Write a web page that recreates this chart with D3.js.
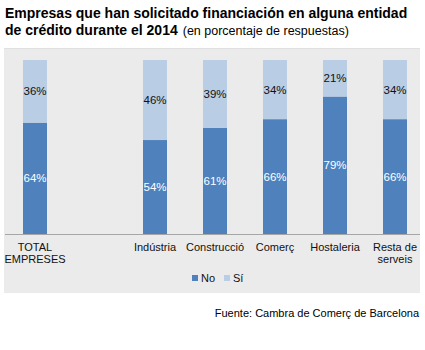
<!DOCTYPE html>
<html lang="es">
<head>
<meta charset="UTF-8">
<title>Financiación 2014</title>
<script src="https://d3js.org/d3.v7.min.js"></script>
<style>
  * { margin: 0; padding: 0; box-sizing: border-box; }
  body { background: #fff; font-family: "Liberation Sans", Arial, sans-serif; }
</style>
</head>
<body>
<div id="chart"></div>
<script>
const categories = ["TOTAL EMPRESES", "Indústria", "Construcció", "Comerç", "Hostaleria", "Resta de serveis"];
const noValues = [64, 54, 61, 66, 79, 66];
const siValues = [36, 46, 39, 34, 21, 34];
const seriesNames = ["No", "Sí"];
const colors = ["#4f81bd", "#b9cde5"];

const W = 425, H = 350;
const svg = d3.select("#chart").append("svg")
  .attr("width", W).attr("height", H);

// title
svg.append("text")
  .attr("x", 5).attr("y", 18)
  .style("font-size", "14px").style("font-weight", "bold").attr("fill", "#000")
  .text("Empresas que han solicitado financiación en alguna entidad");
const t2 = svg.append("text").attr("x", 5).attr("y", 35)
  .style("font-size", "14px").attr("fill", "#000");
t2.append("tspan").style("font-weight", "bold").text("de crédito durante el 2014");
t2.append("tspan").attr("dx", 5).style("font-size", "12.5px").text("(en porcentaje de respuestas)");

// panel
svg.append("rect").attr("x", 4).attr("y", 48).attr("width", 416).attr("height", 245)
  .attr("fill", "#ebebeb");
svg.append("line").attr("x1", 4).attr("x2", 420).attr("y1", 48.5).attr("y2", 48.5)
  .attr("stroke", "#e0e0e0");

// scales: one empty slot after the total
const domain = [categories[0], "__gap"].concat(categories.slice(1));
const x = d3.scaleBand().domain(domain).range([5, 425]).paddingInner(0.6).paddingOuter(0.3);
const y = d3.scaleLinear().domain([0, 100]).range([234, 60]);

const data = categories.map((c, i) => ({ cat: c, vals: [noValues[i], siValues[i]] }));
const stacked = d3.stack().keys([0, 1]).value((d, k) => d.vals[k])(data);

const g = svg.append("g");
stacked.forEach((layer, k) => {
  g.selectAll(".s" + k).data(layer).join("rect")
    .attr("x", d => x(d.data.cat))
    .attr("width", x.bandwidth())
    .attr("y", d => y(d[1]))
    .attr("height", d => y(d[0]) - y(d[1]))
    .attr("fill", colors[k]);
  g.selectAll(".l" + k).data(layer).join("text")
    .attr("x", d => x(d.data.cat) + x.bandwidth() / 2)
    .attr("y", d => (y(d[0]) + y(d[1])) / 2 + 4)
    .attr("text-anchor", "middle")
    .style("font-size", "11.5px")
    .attr("fill", k === 0 ? "#fff" : "#111")
    .text(d => d.data.vals[k] + "%");
});

// x axis
const ax = svg.append("g").attr("transform", "translate(0,234)")
  .call(d3.axisBottom(x).tickSize(0).tickFormat(""));
ax.select(".domain").attr("stroke", "#a6a6a6").attr("d", "M5,0.5H420");

const labelLines = {
  "TOTAL EMPRESES": ["TOTAL", "EMPRESES"],
  "Resta de serveis": ["Resta de", "serveis"]
};
ax.selectAll(".tick").each(function(d) {
  if (d === "__gap") return;
  const lines = labelLines[d] || [d];
  const t = d3.select(this).append("text")
    .attr("text-anchor", "middle").attr("fill", "#111")
    .style("font-size", "11px").style("font-family", "'Liberation Sans', Arial, sans-serif");
  lines.forEach((ln, i) => t.append("tspan").attr("x", 0).attr("y", 17 + i * 12).text(ln));
});

// legend
const leg = svg.append("g").attr("transform", "translate(192,278)");
const legX = [0, 32];
seriesNames.forEach((n, i) => {
  leg.append("rect").attr("x", legX[i]).attr("y", -3).attr("width", 6).attr("height", 6).attr("fill", colors[i]);
  leg.append("text").attr("x", legX[i] + 9).attr("y", 4).style("font-size", "11px").attr("fill", "#111").text(n);
});

// source
svg.append("text").attr("x", 419).attr("y", 317).attr("text-anchor", "end")
  .style("font-size", "11px").attr("fill", "#000")
  .text("Fuente: Cambra de Comerç de Barcelona");
</script>
</body>
</html>
